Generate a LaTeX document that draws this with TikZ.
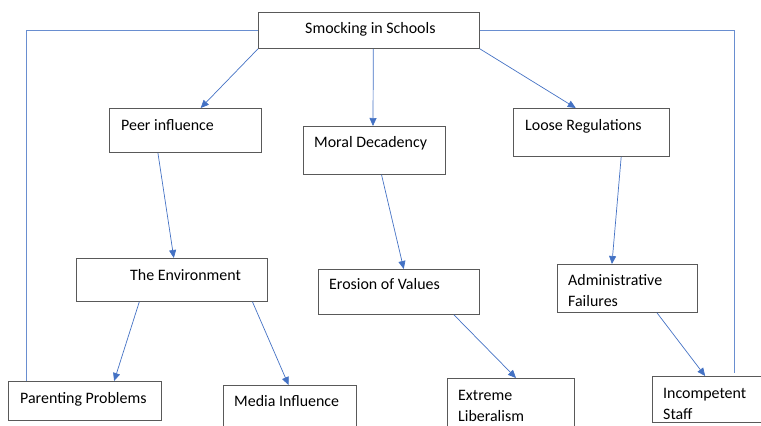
\documentclass[tikz,border=0pt]{standalone}
\usepackage{fontspec}
\setmainfont{Carlito}
\usetikzlibrary{arrows.meta,calc}
\definecolor{linkblue}{HTML}{4472C4}
\tikzset{
  box/.style={draw=black!65, line width=0.8bp, anchor=north west, inner sep=0pt},
  txt/.style={anchor=base west, inner sep=0pt, align=left, font=\fontsize{16}{20.5}\selectfont},
  link/.style={draw=linkblue, line width=0.7bp, -{Triangle[width=7bp,length=8bp]}},
  plain/.style={draw=linkblue!80, line width=0.7bp}
}
\begin{document}
\begin{tikzpicture}[x=1bp,y=-1bp]
    \useasboundingbox (0,0) rectangle (761,425);
    % boxes
    \node[box, minimum width=221bp, minimum height=36bp] (smock) at (258,12) {};
    \node[box, minimum width=152bp, minimum height=44bp] (peer) at (109,108) {};
    \node[box, minimum width=142bp, minimum height=48bp] (moral) at (303,126) {};
    \node[box, minimum width=156bp, minimum height=48bp] (loose) at (513,108) {};
    \node[box, minimum width=191bp, minimum height=43bp] (env) at (76,258) {};
    \node[box, minimum width=161bp, minimum height=45bp] (erosion) at (318,269) {};
    \node[box, minimum width=140bp, minimum height=48bp] (admin) at (557,264) {};
    \node[box, minimum width=153bp, minimum height=39bp] (parent) at (8,381) {};
    \node[box, minimum width=133bp, minimum height=60bp] (media) at (223,385) {};
    \node[box, minimum width=127bp, minimum height=60bp] (extreme) at (447,378) {};
    \node[box, minimum width=120bp, minimum height=46bp] (incomp) at (652,376) {};
    % texts (two-line ones sit on the last baseline)
    \node[txt] (smock-t) at (305,33) {Smocking in Schools};
    \node[txt] (peer-t) at (121,130) {Peer influence};
    \node[txt] (moral-t) at (314,147) {Moral Decadency};
    \node[txt] (loose-t) at (525,130) {Loose Regulations};
    \node[txt] (env-t) at (130,280) {The Environment};
    \node[txt] (erosion-t) at (329,289) {Erosion of Values};
    \node[txt] (admin-t) at (568,306) {Administrative\\Failures};
    \node[txt] (parent-t) at (20,403) {Parenting Problems};
    \node[txt] (media-t) at (234,406) {Media Influence};
    \node[txt] (extreme-t) at (458,421) {Extreme\\Liberalism};
    \node[txt] (incomp-t) at (663,419) {Incompetent\\Staff};
    % arrows
    \draw[link] (smock.south west) -- ($(peer.north west)!0.6!(peer.north east)$);
    \draw[link] ($(smock.south west)!0.52!(smock.south east)$) -- ($(moral.north west)!0.49!(moral.north east)$);
    \draw[link] (smock.south east) -- ($(loose.north west)!0.4!(loose.north east)$);
    \draw[link] ($(peer.south west)!0.32!(peer.south east)$) -- ($(env.north west)!0.51!(env.north east)$);
    \draw[link] ($(moral.south west)!0.55!(moral.south east)$) -- ($(erosion.north west)!0.53!(erosion.north east)$);
    \draw[link] ($(loose.south west)!0.69!(loose.south east)$) -- ($(admin.north west)!0.39!(admin.north east)$);
    \draw[link] ($(env.south west)!0.33!(env.south east)$) -- ($(parent.north west)!0.69!(parent.north east)$);
    \draw[link] ($(env.south west)!0.92!(env.south east)$) -- ($(media.north west)!0.49!(media.north east)$);
    \draw[link] ($(erosion.south west)!0.84!(erosion.south east)$) -- ($(extreme.north west)!0.54!(extreme.north east)$);
    \draw[link] ($(admin.south west)!0.71!(admin.south east)$) -- ($(incomp.north west)!0.44!(incomp.north east)$);
    % side lines
    \draw[plain] (smock.west) -| ($(parent.north west)!0.12!(parent.north east)$);
    \draw[plain, shorten >=3bp] (smock.east) -| ($(incomp.north west)!0.68!(incomp.north east)$);
\end{tikzpicture}
\end{document}
